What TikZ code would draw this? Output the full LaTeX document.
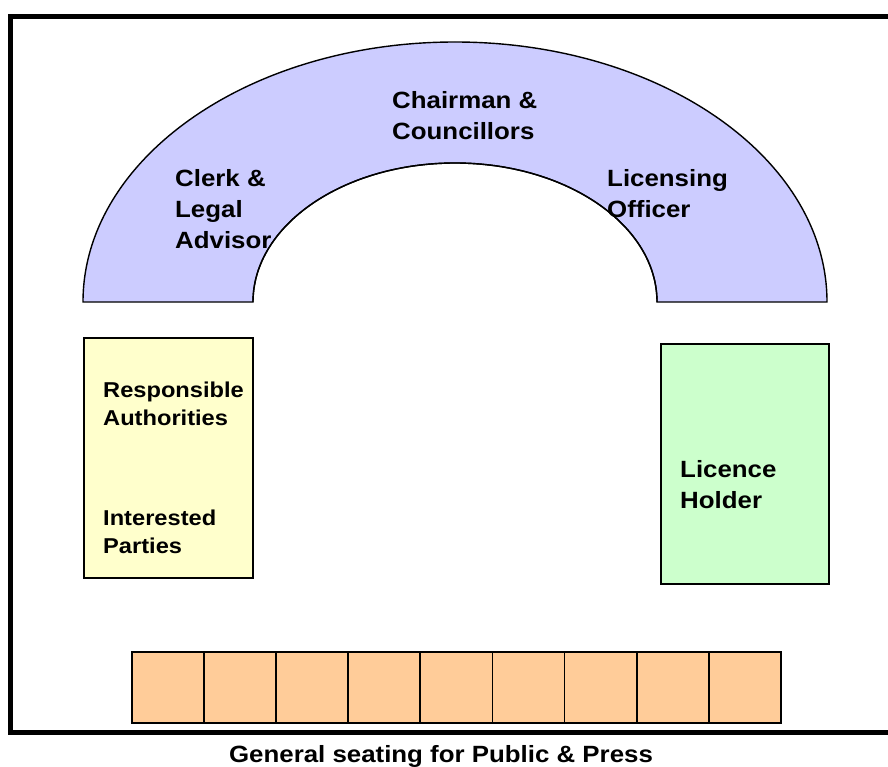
\documentclass[tikz,border=0pt]{standalone}
\usepackage{fontspec}
\setmainfont{Liberation Sans}[FakeStretch=1.1]
\definecolor{archblue}{HTML}{CCCCFF}
\definecolor{boxyellow}{HTML}{FFFFCC}
\definecolor{boxgreen}{HTML}{CCFFCC}
\definecolor{seatorange}{HTML}{FFCC99}
\tikzset{
  lbl/.style={anchor=base west, inner sep=0pt, font=\bfseries\fontsize{23.5}{31}\selectfont},
  lblsmall/.style={anchor=base west, inner sep=0pt, font=\bfseries\fontsize{21.5}{28}\selectfont},
  seat/.style={draw=black, line width=1.8pt, fill=seatorange, minimum width=72.1pt, minimum height=71pt, inner sep=0pt, anchor=north west},
  panel/.style={draw=black, line width=1.8pt, inner sep=0pt, anchor=north west},
}
\begin{document}
\begin{tikzpicture}[x=1pt,y=-1pt]
\useasboundingbox (0,0) rectangle (888,767);
% outer frame
\draw[line width=5pt] (10.5,16.5) rectangle (895,732);
% arch
\draw[fill=archblue, line width=1.4pt, line join=miter]
  (83,302) arc[start angle=180, end angle=0, x radius=372pt, y radius=260pt]
  -- (657,302) arc[start angle=0, end angle=180, x radius=202pt, y radius=139pt]
  -- cycle;
% arch labels
\node[lbl] (ch1) at (392,109) {Chairman \&};
\node[lbl] (ch2) at (392,140) {Councillors};
\node[lbl] (cl1) at (175,187) {Clerk \&};
\node[lbl] (cl2) at (175,218) {Legal};
\node[lbl] (cl3) at (175,248) {Advisor};
\node[lbl] (lo1) at (607,187) {Licensing};
\node[lbl] (lo2) at (607,218) {Officer};
% inner arc line over text
\draw[line width=1.4pt] (253,302) arc[start angle=180, end angle=0, x radius=202pt, y radius=139pt];
% side panels
\node[panel, fill=boxyellow, minimum width=169pt, minimum height=240pt] (ra) at (83,337) {};
\node[panel, fill=boxgreen, minimum width=168pt, minimum height=240pt] (lh) at (660,343) {};
\node[lblsmall] (ra1) at (103,397) {Responsible};
\node[lblsmall] (ra2) at (103,425) {Authorities};
\node[lblsmall] (ip1) at (103,525) {Interested};
\node[lblsmall] (ip2) at (103,553) {Parties};
\node[lbl] (lh1) at (680,477) {Licence};
\node[lbl] (lh2) at (680,508) {Holder};
% public seating
\foreach \i in {0,...,8} {
  \node[seat] (s\i) at ({131+72.1*\i},651) {};
}
\node[lbl, anchor=base] (cap) at (441,762) {General seating for Public \& Press};
\end{tikzpicture}
\end{document}
